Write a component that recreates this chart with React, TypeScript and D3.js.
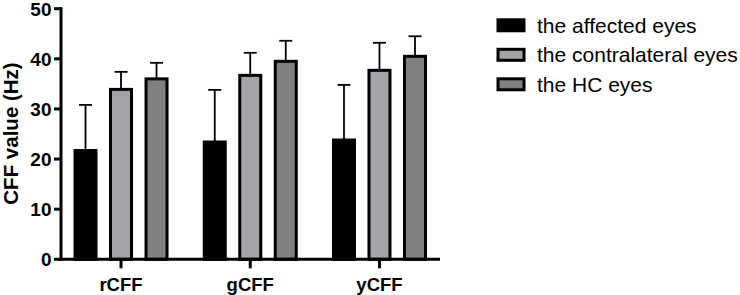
import React from "react";
import * as d3 from "d3";

const categories = ["rCFF", "gCFF", "yCFF"];
const seriesNames = ["the affected eyes", "the contralateral eyes", "the HC eyes"];
const affectedMean = [21.7, 23.4, 23.8];
const affectedSD = [9.1, 10.4, 11.0];
const contralateralMean = [33.9, 36.7, 37.7];
const contralateralSD = [3.5, 4.5, 5.5];
const hcMean = [36.0, 39.5, 40.5];
const hcSD = [3.2, 4.1, 4.0];
const yTicks = [0, 10, 20, 30, 40, 50];
const fills = ["#000000", "#a4a4a8", "#808080"];

const W = 740;
const H = 295;
const FONT = "Arial, 'Liberation Sans', Helvetica, sans-serif";

export default function App() {
  const y = d3.scaleLinear().domain([0, 50]).range([259.3, 8.7]);
  const x = d3.scaleBand<string>().domain(categories).range([56.4, 444.1]).padding(0);
  const inner = d3.scaleBand<string>().domain(seriesNames).range([-53.25, 53.25]).padding(0);
  const means = [affectedMean, contralateralMean, hcMean];
  const sds = [affectedSD, contralateralSD, hcSD];
  const barW = 21;
  const capW = 13;

  const bars: React.ReactNode[] = [];
  const errs: React.ReactNode[] = [];
  categories.forEach((c, ci) => {
    const cx0 = (x(c) as number) + x.bandwidth() / 2;
    seriesNames.forEach((s, si) => {
      const cx = cx0 + (inner(s) as number) + inner.bandwidth() / 2;
      const m = means[si][ci];
      const top = m + sds[si][ci];
      errs.push(
        <g key={`e${ci}-${si}`} stroke="#000" strokeWidth={1.8}>
          <line x1={cx} x2={cx} y1={y(m)} y2={y(top)} />
          <line x1={cx - capW / 2} x2={cx + capW / 2} y1={y(top)} y2={y(top)} />
        </g>
      );
      bars.push(
        <rect
          key={`b${ci}-${si}`}
          x={cx - barW / 2}
          width={barW}
          y={y(m)}
          height={y(0) - y(m)}
          fill={fills[si]}
          stroke="#000"
          strokeWidth={3}
        />
      );
    });
  });

  return (
    <svg
      width={W}
      height={H}
      style={{ position: "absolute", left: 0, top: 0, background: "#fff" }}
      fontFamily={FONT}
    >
      <rect width={W} height={H} fill="#fff" />
      {errs}
      {bars}
      {/* y axis */}
      <line x1={61} x2={61} y1={y(50) - 1.5} y2={y(0) + 1.5} stroke="#000" strokeWidth={3} />
      {yTicks.map((t) => (
        <g key={t}>
          <line x1={54} x2={61} y1={y(t)} y2={y(t)} stroke="#000" strokeWidth={3} />
          <text x={51.5} y={y(t)} dy="0.36em" textAnchor="end" fontWeight="bold" fontSize={19}>
            {t}
          </text>
        </g>
      ))}
      {/* x axis */}
      <line x1={59.5} x2={440} y1={y(0)} y2={y(0)} stroke="#000" strokeWidth={3} />
      {categories.map((c) => {
        const cx = (x(c) as number) + x.bandwidth() / 2;
        return (
          <g key={c}>
            <line x1={cx} x2={cx} y1={y(0)} y2={y(0) + 9} stroke="#000" strokeWidth={3} />
            <text x={cx} y={290.5} textAnchor="middle" fontWeight="bold" fontSize={18.5}>
              {c}
            </text>
          </g>
        );
      })}
      <text
        transform={`translate(17.5,133.5) rotate(-90)`}
        textAnchor="middle"
        fontWeight="bold"
        fontSize={20.5}
      >
        CFF value (Hz)
      </text>
      {/* legend */}
      {seriesNames.map((s, i) => {
        const cy = 25.3 + i * 29.5;
        return (
          <g key={s}>
            <rect x={498} y={cy - 5.5} width={26} height={11} fill={fills[i]} stroke="#000" strokeWidth={3} />
            <text x={537} y={cy} dy="0.36em" fontSize={21}>
              {s}
            </text>
          </g>
        );
      })}
    </svg>
  );
}
